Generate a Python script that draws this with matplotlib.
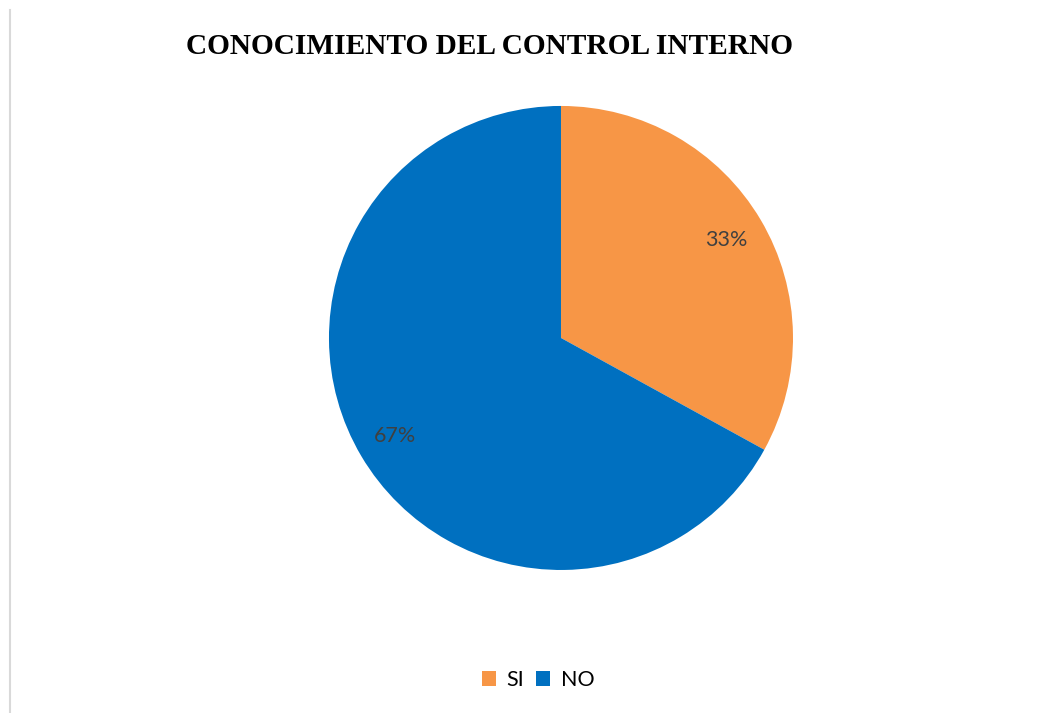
import matplotlib.pyplot as plt
from matplotlib.lines import Line2D
from matplotlib.patches import Patch

labels = ['SI', 'NO']
values = [33, 67]
colors = ['#F79646', '#0070C0']

fig = plt.figure(figsize=(10.47, 7.13), dpi=100)

# thin frame line on the left edge
fig.add_artist(Line2D([0.0095, 0.0095], [0.0, 0.986], color='#d9d9d9', lw=1.5))

fig.text(0.468, 0.935, 'CONOCIMIENTO DEL CONTROL INTERNO', ha='center', va='center',
         fontsize=21.2, fontweight='bold', family='Liberation Serif', color='black')

ax = fig.add_axes([0.3142, 0.2006, 0.4432, 0.6508])
wedges, texts, autotexts = ax.pie(values, colors=colors, startangle=90, counterclock=False,
                                  autopct='%1.0f%%', pctdistance=0.83, radius=1.0,
                                  textprops=dict(family='Lato', fontsize=15.5, color='#404040'))
ax.set_xlim(-1, 1)
ax.set_ylim(-1, 1)
ax.set_aspect('equal')

handles = [Patch(facecolor=c, edgecolor='none') for c in colors]
fig.legend(handles, labels, loc='center', bbox_to_anchor=(0.514, 0.046), ncol=2, frameon=False,
           prop=dict(family='Lato', size=15.5), handlelength=0.65, handleheight=0.65,
           handletextpad=0.5, columnspacing=0.55)

plt.savefig('out.png', dpi=100)
